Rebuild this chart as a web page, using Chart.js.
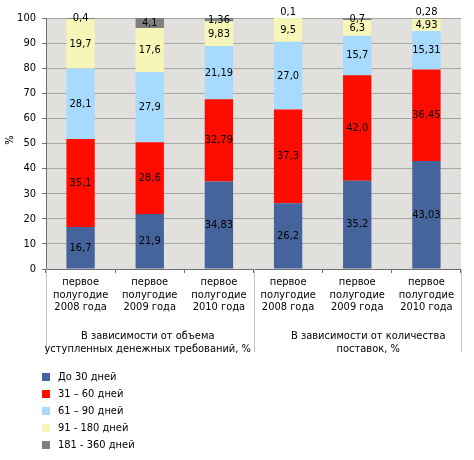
<!DOCTYPE html>
<html>
<head>
<meta charset="utf-8">
<script src="https://cdn.jsdelivr.net/npm/chart.js@4.4.1/dist/chart.umd.min.js"></script>
<style>
  body { margin: 0; background: #fff; }
  canvas { display: block; }
</style>
</head>
<body>
<canvas id="chart" width="474" height="460"></canvas>
<script>
// categories (3 lines each) and the two groups under them
const periods = [
  ["первое", "полугодие", "2008 года"],
  ["первое", "полугодие", "2009 года"],
  ["первое", "полугодие", "2010 года"],
  ["первое", "полугодие", "2008 года"],
  ["первое", "полугодие", "2009 года"],
  ["первое", "полугодие", "2010 года"]
];
const groups = [
  ["В зависимости от объема", "уступленных денежных требований, %"],
  ["В зависимости от количества", "поставок, %"]
];
const seriesNames = ["До 30 дней", "31 – 60 дней", "61 – 90 дней", "91 - 180 дней", "181 - 360 дней"];

// values, %
const upTo30 = [16.7, 21.9, 34.83, 26.2, 35.2, 43.03];
const days31to60 = [35.1, 28.6, 32.79, 37.3, 42.0, 36.45];
const days61to90 = [28.1, 27.9, 21.19, 27.0, 15.7, 15.31];
const days91to180 = [19.7, 17.6, 9.83, 9.5, 6.3, 4.93];
const days181to360 = [0.4, 4.1, 1.36, 0.1, 0.7, 0.28];
const decimals = [1, 1, 2, 1, 1, 2];

const colors = ["#45649c", "#ff0c00", "#a6daff", "#f6f6b8", "#808080"];
const FONT = '"DejaVu Sans Condensed", "DejaVu Sans", sans-serif';

const series = [upTo30, days31to60, days61to90, days91to180, days181to360];

const decor = {
  id: "decor",
  beforeDraw(chart) {
    const { ctx, chartArea: a } = chart;
    ctx.save();
    ctx.fillStyle = "#e1e0dc";
    ctx.fillRect(a.left, a.top, a.right - a.left, a.bottom - a.top);
    ctx.restore();
  },
  afterDatasetsDraw(chart) {
    const ctx = chart.ctx;
    ctx.save();
    ctx.font = "11px " + FONT;
    ctx.fillStyle = "#000";
    ctx.textAlign = "center";
    ctx.textBaseline = "middle";
    chart.data.datasets.forEach((ds, i) => {
      chart.getDatasetMeta(i).data.forEach((bar, j) => {
        const v = ds.data[j];
        const text = v.toFixed(decimals[j]).replace(".", ",");
        const y = v < 0.35 ? bar.y - 6 : (bar.y + bar.base) / 2;
        ctx.fillText(text, bar.x, y);
      });
    });
    ctx.restore();
  },
  afterDraw(chart) {
    const { ctx, chartArea: a } = chart;
    const x = chart.scales.x;
    ctx.save();

    // group separators below the axis
    ctx.strokeStyle = "#c4c4c4";
    ctx.lineWidth = 1;
    [a.left, x.getPixelForValue(2.5), a.right].forEach(px => {
      ctx.beginPath();
      ctx.moveTo(Math.round(px) + 0.5, a.bottom);
      ctx.lineTo(Math.round(px) + 0.5, a.bottom + 83);
      ctx.stroke();
    });

    ctx.font = "11px " + FONT;
    ctx.fillStyle = "#000";
    ctx.textAlign = "center";
    ctx.textBaseline = "middle";
    const shifts = [-2, 11];
    groups.forEach((lines, g) => {
      const cx = (x.getPixelForValue(g * 3) + x.getPixelForValue(g * 3 + 2)) / 2 + shifts[g];
      lines.forEach((t, k) => ctx.fillText(t, cx, a.bottom + 67 + k * 13));
    });

    // y axis title
    ctx.save();
    ctx.translate(10, 140);
    ctx.rotate(-Math.PI / 2);
    ctx.fillText("%", 0, 0);
    ctx.restore();

    // legend
    ctx.textAlign = "left";
    chart.data.datasets.forEach((ds, i) => {
      const y = 377 + i * 17;
      ctx.fillStyle = ds.backgroundColor;
      ctx.fillRect(42, y - 4, 8, 8);
      ctx.fillStyle = "#000";
      ctx.fillText(ds.label, 58, y);
    });
    ctx.restore();
  }
};

new Chart(document.getElementById("chart"), {
  type: "bar",
  data: {
    labels: periods,
    datasets: series.map((data, i) => ({
      label: seriesNames[i],
      data: data,
      backgroundColor: colors[i],
      borderWidth: 0,
      categoryPercentage: 1,
      barPercentage: 0.41
    }))
  },
  options: {
    responsive: false,
    animation: false,
    layout: { padding: { left: 0, top: 18, right: 13, bottom: 0 } },
    plugins: {
      legend: { display: false },
      tooltip: { enabled: false }
    },
    scales: {
      x: {
        stacked: true,
        offset: true,
        grid: {
          offset: true,
          drawOnChartArea: false,
          tickLength: 4,
          tickColor: "#707070"
        },
        border: { color: "#707070" },
        ticks: {
          color: "#000",
          padding: 3,
          maxRotation: 0,
          autoSkip: false,
          font: { family: FONT, size: 11, lineHeight: 1.15 }
        },
        afterFit(scale) { scale.height = 191; }
      },
      y: {
        stacked: true,
        min: 0,
        max: 100,
        grid: {
          color: "#a6a6a6",
          tickLength: 4,
          tickColor: "#707070"
        },
        border: { color: "#707070" },
        ticks: {
          stepSize: 10,
          color: "#000",
          padding: 6,
          font: { family: FONT, size: 11 }
        },
        afterFit(scale) { scale.width = 46; }
      }
    }
  },
  plugins: [decor]
});
</script>
</body>
</html>
